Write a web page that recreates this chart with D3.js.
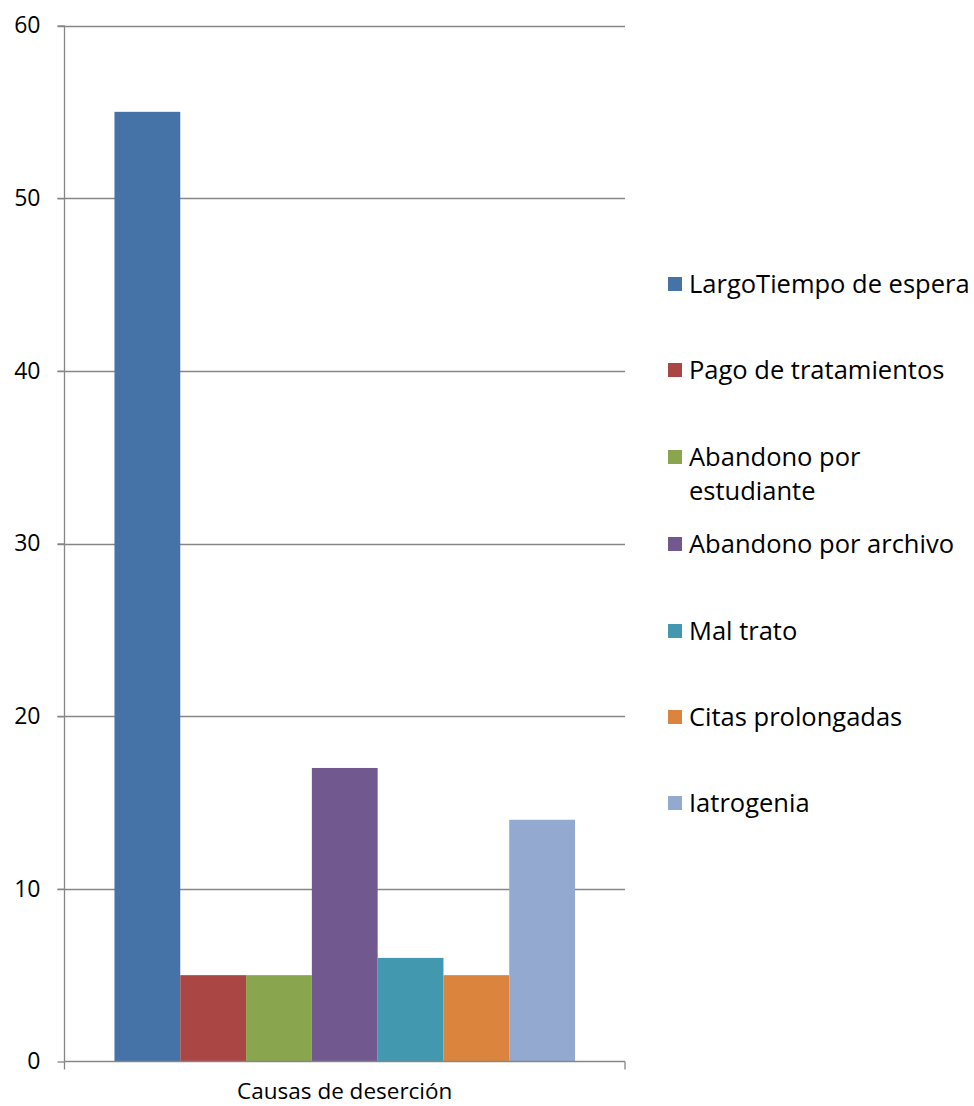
<!DOCTYPE html>
<html>
<head>
<meta charset="utf-8">
<script src="https://cdn.jsdelivr.net/npm/d3@7"></script>
<style>
  html, body { margin: 0; padding: 0; background: #fff; }
  svg { display: block; }
</style>
</head>
<body>
<svg id="chart" width="974" height="1106"></svg>
<script>
// Dropout causes, one group of bars
const category = "Causas de deserción";
const causes = [
  "LargoTiempo de espera",
  "Pago de tratamientos",
  "Abandono por estudiante",
  "Abandono por archivo",
  "Mal trato",
  "Citas prolongadas",
  "Iatrogenia"
];
const values = [55, 5, 5, 17, 6, 5, 14];
const colors = ["#4572A7", "#AA4643", "#89A54E", "#71588F", "#4198AF", "#DB843D", "#93A9CF"];
const yTicks = [0, 10, 20, 30, 40, 50, 60];
// legend lines (long labels wrap in two lines)
const legendLines = [
  ["LargoTiempo de espera"],
  ["Pago de tratamientos"],
  ["Abandono por", "estudiante"],
  ["Abandono por archivo"],
  ["Mal trato"],
  ["Citas prolongadas"],
  ["Iatrogenia"]
];

const font = "'Open Sans', sans-serif";
const axisColor = "#868686";
const svg = d3.select("#chart");

const plot = { left: 64.5, right: 625, top: 25.5, bottom: 1061.5 };

const y = d3.scaleLinear().domain([0, 60]).range([plot.bottom, plot.top]);
const x0 = d3.scaleBand().domain([category]).range([plot.left, plot.right]).paddingOuter(0.1085).paddingInner(0);
const x1 = d3.scaleBand().domain(causes).range([0, x0.bandwidth()]);

// gridlines
svg.append("g").selectAll("line")
  .data(yTicks.filter(d => d > 0))
  .join("line")
  .attr("x1", plot.left - 7).attr("x2", plot.right)
  .attr("y1", d => Math.round(y(d)) + 0.5).attr("y2", d => Math.round(y(d)) + 0.5)
  .attr("stroke", axisColor).attr("stroke-width", 1.3);

// bars
svg.append("g").selectAll("rect")
  .data(causes.map((c, i) => ({ c, v: values[i], col: colors[i] })))
  .join("rect")
  .attr("x", d => x0(category) + x1(d.c))
  .attr("width", x1.bandwidth())
  .attr("y", d => y(d.v))
  .attr("height", d => y(0) - y(d.v))
  .attr("fill", d => d.col);

// y axis
const yAxis = d3.axisLeft(y).tickValues(yTicks).tickSize(7).tickPadding(17).tickFormat(d3.format("d"));
const gy = svg.append("g").attr("transform", `translate(${plot.left},0)`).call(yAxis);
gy.select(".domain").attr("stroke", axisColor).attr("stroke-width", 1.3).attr("d", `M0,${plot.top}V${plot.bottom}`);
gy.selectAll(".tick line").attr("stroke", axisColor).attr("stroke-width", 1.3);
gy.selectAll(".tick text").attr("font-family", font).attr("font-size", 23).attr("fill", "#000");

// x axis with boundary ticks
const gx = svg.append("g");
gx.append("line")
  .attr("x1", plot.left).attr("x2", plot.right)
  .attr("y1", plot.bottom).attr("y2", plot.bottom)
  .attr("stroke", axisColor).attr("stroke-width", 1.3);
gx.selectAll("line.tk")
  .data(x0.range())
  .join("line").attr("class", "tk")
  .attr("x1", d => d).attr("x2", d => d)
  .attr("y1", plot.bottom).attr("y2", plot.bottom + 8)
  .attr("stroke", axisColor).attr("stroke-width", 1.3);
gx.append("text")
  .attr("x", (plot.left + plot.right) / 2)
  .attr("y", 1099)
  .attr("text-anchor", "middle")
  .attr("font-family", font).attr("font-size", 22.5)
  .text(category);

// legend
const legendY = [284, 370, 457, 544, 631, 717, 803];
const lg = svg.append("g");
causes.forEach((c, i) => {
  const item = lg.append("g").attr("transform", `translate(668,${legendY[i]})`);
  item.append("rect").attr("x", 0).attr("y", -7).attr("width", 14).attr("height", 14).attr("fill", colors[i]);
  const t = item.append("text").attr("x", 21).attr("y", 9)
    .attr("font-family", font).attr("font-size", 25.5).attr("fill", "#000");
  legendLines[i].forEach((ln, j) => {
    t.append("tspan").attr("x", 21).attr("dy", j === 0 ? 0 : 34).text(ln);
  });
});
</script>
</body>
</html>
